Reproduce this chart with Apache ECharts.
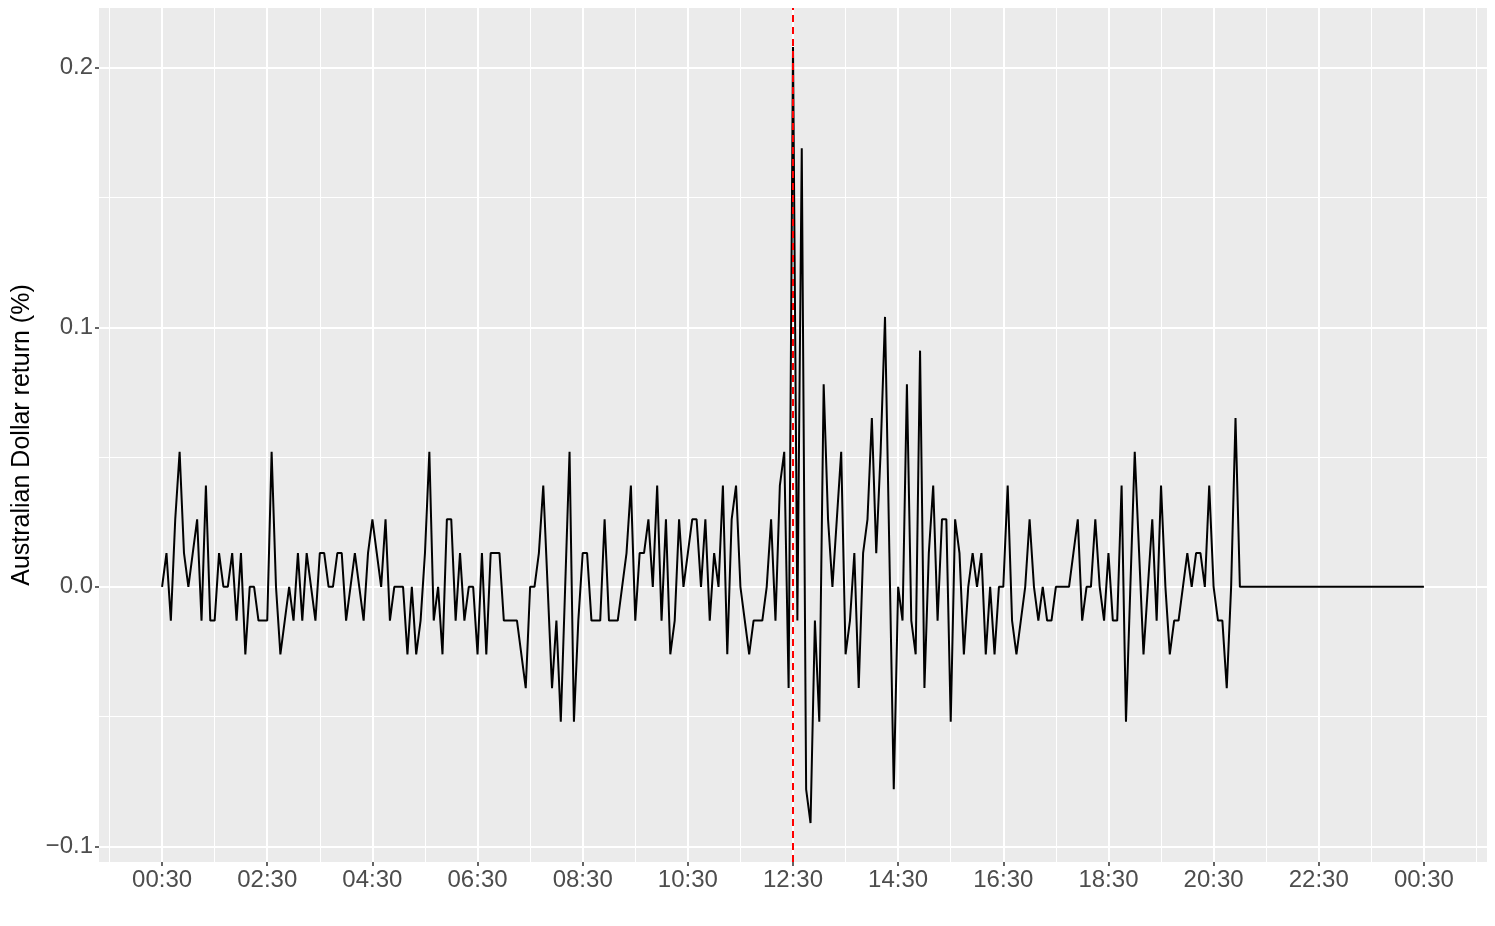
<!DOCTYPE html>
<html>
<head>
<meta charset="utf-8">
<title>Australian Dollar return</title>
<script src="https://cdn.jsdelivr.net/npm/echarts@6/dist/echarts.min.js"></script>
<style>
  html, body { margin: 0; padding: 0; background: #fff; }
  #chart { width: 1495px; height: 926px; }
</style>
</head>
<body>
<div id="chart"></div>
<script>
// 5-minute returns (%) from 00:30 to 00:30 next day
const startLabel = '00:30'
const stepMinutes = 5
const returns = [
  0, 0.013, -0.013, 0.026, 0.052, 0.013, 0, 0.013, 0.026, -0.013,
  0.039, -0.013, -0.013, 0.013, 0, 0, 0.013, -0.013, 0.013, -0.026,
  0, 0, -0.013, -0.013, -0.013, 0.052, 0, -0.026, -0.013, 0,
  -0.013, 0.013, -0.013, 0.013, 0, -0.013, 0.013, 0.013, 0, 0,
  0.013, 0.013, -0.013, 0, 0.013, 0, -0.013, 0.013, 0.026, 0.013,
  0, 0.026, -0.013, 0, 0, 0, -0.026, 0, -0.026, -0.013,
  0.013, 0.052, -0.013, 0, -0.026, 0.026, 0.026, -0.013, 0.013, -0.013,
  0, 0, -0.026, 0.013, -0.026, 0.013, 0.013, 0.013, -0.013, -0.013,
  -0.013, -0.013, -0.026, -0.039, 0, 0, 0.013, 0.039, 0, -0.039,
  -0.013, -0.052, 0, 0.052, -0.052, -0.013, 0.013, 0.013, -0.013, -0.013,
  -0.013, 0.026, -0.013, -0.013, -0.013, 0, 0.013, 0.039, -0.013, 0.013,
  0.013, 0.026, 0, 0.039, -0.013, 0.026, -0.026, -0.013, 0.026, 0,
  0.013, 0.026, 0.026, 0, 0.026, -0.013, 0.013, 0, 0.039, -0.026,
  0.026, 0.039, 0, -0.013, -0.026, -0.013, -0.013, -0.013, 0, 0.026,
  -0.013, 0.039, 0.052, -0.039, 0.208, -0.013, 0.169, -0.078, -0.091, -0.013,
  -0.052, 0.078, 0.026, 0, 0.026, 0.052, -0.026, -0.013, 0.013, -0.039,
  0.013, 0.026, 0.065, 0.013, 0.052, 0.104, 0.013, -0.078, 0, -0.013,
  0.078, -0.013, -0.026, 0.091, -0.039, 0.013, 0.039, -0.013, 0.026, 0.026,
  -0.052, 0.026, 0.013, -0.026, 0, 0.013, 0, 0.013, -0.026, 0,
  -0.026, 0, 0, 0.039, -0.013, -0.026, -0.013, 0, 0.026, 0,
  -0.013, 0, -0.013, -0.013, 0, 0, 0, 0, 0.013, 0.026,
  -0.013, 0, 0, 0.026, 0, -0.013, 0.013, -0.013, -0.013, 0.039,
  -0.052, 0, 0.052, 0.013, -0.026, 0, 0.026, -0.013, 0.039, 0,
  -0.026, -0.013, -0.013, 0, 0.013, 0, 0.013, 0.013, 0, 0.039,
  0, -0.013, -0.013, -0.039, 0, 0.065, 0, 0, 0, 0,
  0, 0, 0, 0, 0, 0, 0, 0, 0, 0,
  0, 0, 0, 0, 0, 0, 0, 0, 0, 0,
  0, 0, 0, 0, 0, 0, 0, 0, 0, 0,
  0, 0, 0, 0, 0, 0, 0, 0, 0
]
// x ticks in minutes after 00:30
const xMajorTicks = [0, 120, 240, 360, 480, 600, 720, 840, 960, 1080, 1200, 1320, 1440]
const xMinorTicks = [-60, 60, 180, 300, 420, 540, 660, 780, 900, 1020, 1140, 1260, 1380, 1500]
const yMajorTicks = [-0.1, 0, 0.1, 0.2]
const yMinorTicks = [-0.05, 0.05, 0.15]
const eventMinute = 720 // 12:30

const startMin = parseInt(startLabel.slice(0, 2)) * 60 + parseInt(startLabel.slice(3))
const points = returns.map((v, i) => [i * stepMinutes, v])

function timeLabel(m) {
  const t = (((startMin + m) % 1440) + 1440) % 1440
  const h = Math.floor(t / 60)
  const mm = t % 60
  return String(h).padStart(2, '0') + ':' + String(mm).padStart(2, '0')
}

const labelStyle = { color: '#4d4d4d', fontSize: 24, fontFamily: 'Liberation Sans' }

const chart = echarts.init(document.getElementById('chart'))
chart.setOption({
  animation: false,
  backgroundColor: '#fff',
  grid: {
    left: 99, right: 8, top: 8, bottom: 64,
    show: true, backgroundColor: '#ebebeb', borderWidth: 0,
    outerBoundsMode: 'none'
  },
  xAxis: [
    {
      type: 'value', min: -72, max: 1512,
      axisLine: { show: false, onZero: false },
      axisTick: { show: true, length: 4, customValues: xMajorTicks, lineStyle: { color: '#333', width: 1.5 } },
      axisLabel: { ...labelStyle, margin: 6, customValues: xMajorTicks, formatter: timeLabel },
      splitLine: { show: true, lineStyle: { color: '#fff', width: 2 } }
    },
    {
      // minor grid only
      type: 'value', min: -72, max: 1512, position: 'bottom',
      axisLine: { show: false, onZero: false },
      axisTick: { show: false, customValues: xMinorTicks },
      axisLabel: { show: false, customValues: xMinorTicks },
      splitLine: { show: true, lineStyle: { color: '#fff', width: 1 } },
      z: 0
    }
  ],
  yAxis: [
    {
      type: 'value', min: -0.106, max: 0.223,
      name: 'Australian Dollar return (%)',
      nameLocation: 'middle', nameGap: 64, nameRotate: 90,
      nameTextStyle: { color: '#000', fontSize: 25, fontFamily: 'Liberation Sans' },
      axisLine: { show: false, onZero: false },
      axisTick: { show: true, length: 4, customValues: yMajorTicks, lineStyle: { color: '#333', width: 1.5 } },
      axisLabel: {
        ...labelStyle, margin: 6, customValues: yMajorTicks,
        formatter: v => (v < 0 ? '\u2212' : '') + Math.abs(v).toFixed(1)
      },
      splitLine: { show: true, lineStyle: { color: '#fff', width: 2 } }
    },
    {
      type: 'value', min: -0.106, max: 0.223, position: 'left',
      axisLine: { show: false, onZero: false },
      axisTick: { show: false, customValues: yMinorTicks },
      axisLabel: { show: false, customValues: yMinorTicks },
      splitLine: { show: true, lineStyle: { color: '#fff', width: 1 } },
      z: 0
    }
  ],
  series: [
    {
      type: 'line',
      data: points,
      showSymbol: false,
      lineStyle: { color: '#000', width: 2 },
      z: 3,
      markLine: {
        silent: true,
        symbol: 'none',
        label: { show: false },
        lineStyle: { color: '#ff0000', width: 2, type: [7, 5] },
        data: [{ xAxis: eventMinute }]
      }
    }
  ]
})
</script>
</body>
</html>
